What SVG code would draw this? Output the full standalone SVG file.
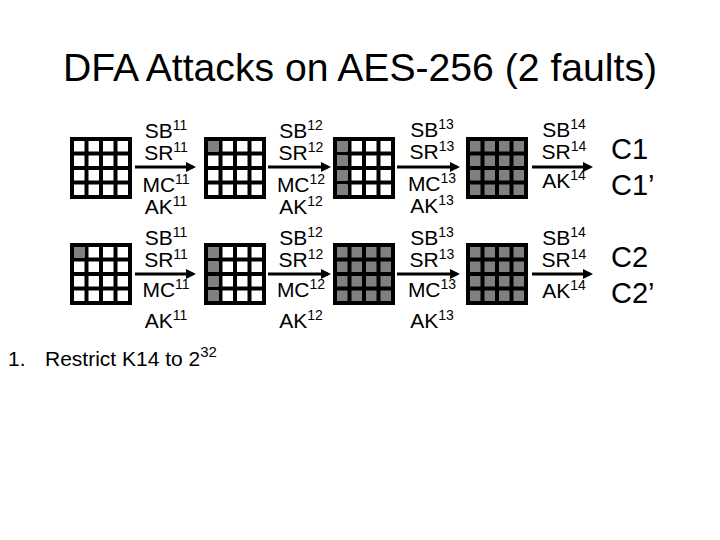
<svg xmlns="http://www.w3.org/2000/svg" width="720" height="540" viewBox="0 0 720 540">
<style>
text{font-family:"Liberation Sans",Arial,sans-serif;fill:#000}
.lbl{font-size:21px;text-anchor:middle}
.sup{font-size:14px}
.big{font-size:29px}
.bk{fill:#000}
.w{fill:#fff}
.g{fill:#808080}
.conn{stroke:#000;stroke-width:3;fill:none;marker-end:url(#ah)}
</style>
<defs>
<marker id="ah" markerWidth="10" markerHeight="10" refX="7" refY="5" orient="auto" markerUnits="userSpaceOnUse">
<path d="M0,0 L10,5 L0,10 Z" fill="#000"/>
</marker>
<g id="gridW">
<rect class="bk" x="0" y="0" width="62" height="62"/>
<rect class="w" x="4" y="4" width="10.5" height="10.5"/><rect class="w" x="18.5" y="4" width="10.5" height="10.5"/><rect class="w" x="33" y="4" width="10.5" height="10.5"/><rect class="w" x="47.5" y="4" width="10.5" height="10.5"/>
<rect class="w" x="4" y="18.5" width="10.5" height="10.5"/><rect class="w" x="18.5" y="18.5" width="10.5" height="10.5"/><rect class="w" x="33" y="18.5" width="10.5" height="10.5"/><rect class="w" x="47.5" y="18.5" width="10.5" height="10.5"/>
<rect class="w" x="4" y="33" width="10.5" height="10.5"/><rect class="w" x="18.5" y="33" width="10.5" height="10.5"/><rect class="w" x="33" y="33" width="10.5" height="10.5"/><rect class="w" x="47.5" y="33" width="10.5" height="10.5"/>
<rect class="w" x="4" y="47.5" width="10.5" height="10.5"/><rect class="w" x="18.5" y="47.5" width="10.5" height="10.5"/><rect class="w" x="33" y="47.5" width="10.5" height="10.5"/><rect class="w" x="47.5" y="47.5" width="10.5" height="10.5"/>
</g>
<g id="cellTL"><rect class="g" x="4" y="4" width="10.5" height="10.5"/></g>
<g id="colL">
<rect class="g" x="4" y="4" width="10.5" height="10.5"/><rect class="g" x="4" y="18.5" width="10.5" height="10.5"/><rect class="g" x="4" y="33" width="10.5" height="10.5"/><rect class="g" x="4" y="47.5" width="10.5" height="10.5"/>
</g>
<g id="gridG">
<rect class="bk" x="0" y="0" width="62" height="62"/>
<rect class="g" x="4" y="4" width="10.5" height="10.5"/><rect class="g" x="18.5" y="4" width="10.5" height="10.5"/><rect class="g" x="33" y="4" width="10.5" height="10.5"/><rect class="g" x="47.5" y="4" width="10.5" height="10.5"/>
<rect class="g" x="4" y="18.5" width="10.5" height="10.5"/><rect class="g" x="18.5" y="18.5" width="10.5" height="10.5"/><rect class="g" x="33" y="18.5" width="10.5" height="10.5"/><rect class="g" x="47.5" y="18.5" width="10.5" height="10.5"/>
<rect class="g" x="4" y="33" width="10.5" height="10.5"/><rect class="g" x="18.5" y="33" width="10.5" height="10.5"/><rect class="g" x="33" y="33" width="10.5" height="10.5"/><rect class="g" x="47.5" y="33" width="10.5" height="10.5"/>
<rect class="g" x="4" y="47.5" width="10.5" height="10.5"/><rect class="g" x="18.5" y="47.5" width="10.5" height="10.5"/><rect class="g" x="33" y="47.5" width="10.5" height="10.5"/><rect class="g" x="47.5" y="47.5" width="10.5" height="10.5"/>
</g>
</defs>
<rect width="720" height="540" fill="#fff"/>
<text id="title" x="360" y="81" font-size="39" text-anchor="middle" textLength="594" lengthAdjust="spacingAndGlyphs">DFA Attacks on AES-256 (2 faults)</text>

<g id="state1a" transform="translate(70,137)"><use href="#gridW"/></g>
<g id="state2a" transform="translate(204,137)"><use href="#gridW"/><use href="#cellTL"/></g>
<g id="state3a" transform="translate(333,137)"><use href="#gridW"/><use href="#colL"/></g>
<g id="state4a" transform="translate(466,137)"><use href="#gridG"/></g>
<g id="state1b" transform="translate(70,243)"><use href="#gridW"/><use href="#cellTL"/></g>
<g id="state2b" transform="translate(204,243)"><use href="#gridW"/><use href="#colL"/></g>
<g id="state3b" transform="translate(333,243)"><use href="#gridG"/></g>
<g id="state4b" transform="translate(466,243)"><use href="#gridG"/></g>

<g id="connectors">
<line class="conn" x1="135" y1="167" x2="193" y2="167"/>
<line class="conn" x1="268" y1="167" x2="328" y2="167"/>
<line class="conn" x1="397" y1="167" x2="457" y2="167"/>
<line class="conn" x1="532" y1="167" x2="590" y2="167"/>
<line class="conn" x1="135" y1="274" x2="193" y2="274"/>
<line class="conn" x1="268" y1="274" x2="328" y2="274"/>
<line class="conn" x1="397" y1="274" x2="457" y2="274"/>
<line class="conn" x1="532" y1="274" x2="590" y2="274"/>
</g>

<g id="labels1a">
<text class="lbl" x="166" y="138">SB<tspan class="sup" dy="-8">11</tspan></text>
<text class="lbl" x="166" y="160">SR<tspan class="sup" dy="-8">11</tspan></text>
<text class="lbl" x="166" y="192">MC<tspan class="sup" dy="-8">11</tspan></text>
<text class="lbl" x="166" y="214">AK<tspan class="sup" dy="-8">11</tspan></text>
</g>
<g id="labels2a">
<text class="lbl" x="301" y="138">SB<tspan class="sup" dy="-8">12</tspan></text>
<text class="lbl" x="301" y="160">SR<tspan class="sup" dy="-8">12</tspan></text>
<text class="lbl" x="301" y="192">MC<tspan class="sup" dy="-8">12</tspan></text>
<text class="lbl" x="301" y="214">AK<tspan class="sup" dy="-8">12</tspan></text>
</g>
<g id="labels3a">
<text class="lbl" x="432" y="137">SB<tspan class="sup" dy="-8">13</tspan></text>
<text class="lbl" x="432" y="159">SR<tspan class="sup" dy="-8">13</tspan></text>
<text class="lbl" x="432" y="191">MC<tspan class="sup" dy="-8">13</tspan></text>
<text class="lbl" x="432" y="213">AK<tspan class="sup" dy="-8">13</tspan></text>
</g>
<g id="labels4a">
<text class="lbl" x="564" y="137">SB<tspan class="sup" dy="-8">14</tspan></text>
<text class="lbl" x="564" y="159">SR<tspan class="sup" dy="-8">14</tspan></text>
<text class="lbl" x="564" y="188">AK<tspan class="sup" dy="-8">14</tspan></text>
</g>
<g id="labels1b">
<text class="lbl" x="166" y="245">SB<tspan class="sup" dy="-8">11</tspan></text>
<text class="lbl" x="166" y="267">SR<tspan class="sup" dy="-8">11</tspan></text>
<text class="lbl" x="166" y="297">MC<tspan class="sup" dy="-8">11</tspan></text>
<text class="lbl" x="166" y="328">AK<tspan class="sup" dy="-8">11</tspan></text>
</g>
<g id="labels2b">
<text class="lbl" x="301" y="245">SB<tspan class="sup" dy="-8">12</tspan></text>
<text class="lbl" x="301" y="267">SR<tspan class="sup" dy="-8">12</tspan></text>
<text class="lbl" x="301" y="297">MC<tspan class="sup" dy="-8">12</tspan></text>
<text class="lbl" x="301" y="328">AK<tspan class="sup" dy="-8">12</tspan></text>
</g>
<g id="labels3b">
<text class="lbl" x="432" y="245">SB<tspan class="sup" dy="-8">13</tspan></text>
<text class="lbl" x="432" y="267">SR<tspan class="sup" dy="-8">13</tspan></text>
<text class="lbl" x="432" y="297">MC<tspan class="sup" dy="-8">13</tspan></text>
<text class="lbl" x="432" y="328">AK<tspan class="sup" dy="-8">13</tspan></text>
</g>
<g id="labels4b">
<text class="lbl" x="564" y="245">SB<tspan class="sup" dy="-8">14</tspan></text>
<text class="lbl" x="564" y="267">SR<tspan class="sup" dy="-8">14</tspan></text>
<text class="lbl" x="564" y="298">AK<tspan class="sup" dy="-8">14</tspan></text>
</g>

<g id="ciphertexts">
<text class="big" x="611" y="159">C1</text>
<text class="big" x="611" y="195">C1’</text>
<text class="big" x="611" y="267">C2</text>
<text class="big" x="611" y="303">C2’</text>
</g>

<g id="note">
<text x="8" y="366" font-size="21">1.</text>
<text x="45" y="366" font-size="21">Restrict K14 to 2<tspan font-size="15" dy="-9">32</tspan></text>
</g>
</svg>
